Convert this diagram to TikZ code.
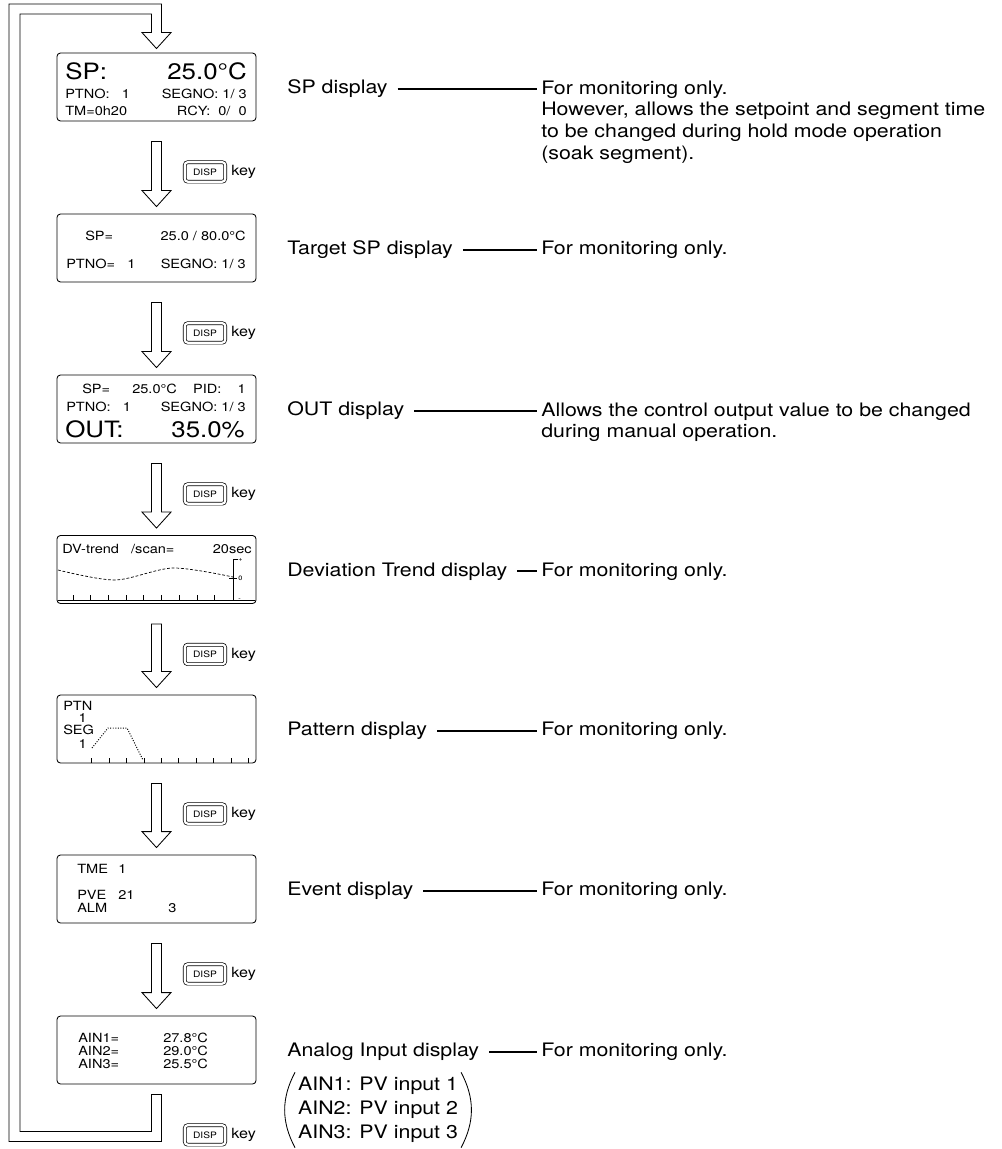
\documentclass[tikz,border=0pt]{standalone}
\usepackage{fontspec}
\setmainfont{TeX Gyre Heros}[FakeStretch=1.15]
\usetikzlibrary{positioning, calc}

\begin{document}
\begin{tikzpicture}[x=0.025cm, y=-0.025cm,
  screen/.style={draw, rounded corners=2.5pt, line width=0.6pt,
                 minimum width=4.975cm, minimum height=1.7cm},
  lcd/.style={font=\fontsize{9}{9}\selectfont, inner sep=0pt},
  lcdbig/.style={font=\fontsize{16}{16}\selectfont, inner sep=0pt},
  lcdtiny/.style={font=\fontsize{4.5}{5}\selectfont, inner sep=0pt},
  hollow/.style={draw, fill=white, line width=0.6pt},
  keycap/.style={draw, double, double distance=1.6pt, line width=0.5pt,
                 rounded corners=2pt, minimum width=28.7pt, minimum height=13.8pt,
                 inner sep=0pt, font=\fontsize{6.3}{7}\selectfont},
  keytxt/.style={font=\fontsize{10}{11}\selectfont, inner sep=0pt},
  lbl/.style={font=\fontsize{13.2}{15.5}\selectfont, inner sep=0pt, anchor=base west},
  desc/.style={lbl, align=left},
  link/.style={line width=1.3pt, shorten <=7pt, shorten >=3pt},
  paren/.style={line width=0.6pt},
  trend/.style={line width=0.5pt, dash pattern=on 2pt off 1.3pt},
  ptnline/.style={line width=0.7pt, dash pattern=on 0.7pt off 1.1pt}
]
  \useasboundingbox (0,0) rectangle (1001,1149);

  % screens
  \node[screen] (s1) at (156.5,87) {};
  \node[screen] (s2) at (156.5,248) {};
  \node[screen] (s3) at (156.5,409) {};
  \node[screen] (s4) at (156.5,569.5) {};
  \node[screen] (s5) at (156.5,729) {};
  \node[screen] (s6) at (156.5,889) {};
  \node[screen] (s7) at (156.5,1050) {};

  % SP display
  \node[lcdbig, anchor=base west] at (65,80) {SP:};
  \node[lcdbig, anchor=base east] at (247,80) {25.0°C};
  \node[lcd, anchor=base west] at (65,99) {PTNO:~~~1};
  \node[lcd, anchor=base east] at (247,99) {SEGNO:~1/~3};
  \node[lcd, anchor=base west] at (65,116) {TM=0h20};
  \node[lcd, anchor=base east] at (247,116) {RCY:~~0/~~0};

  % target SP display
  \node[lcd, anchor=base west] at (85,240) {SP=};
  \node[lcd, anchor=base east] at (246,240) {25.0 / 80.0°C};
  \node[lcd, anchor=base west] at (66,268) {PTNO=~~~1};
  \node[lcd, anchor=base east] at (246,268) {SEGNO:~1/~3};

  % OUT display
  \node[lcd, anchor=base west] at (82,393) {SP=};
  \node[lcd, anchor=base west] at (132,393) {25.0°C};
  \node[lcd, anchor=base east] at (246,393) {PID:~~~~1};
  \node[lcd, anchor=base west] at (66,411) {PTNO:~~~1};
  \node[lcd, anchor=base east] at (246,411) {SEGNO:~1/~3};
  \node[lcdbig, anchor=base west] at (65,437) {OUT:};
  \node[lcdbig, anchor=base east] at (245,437) {35.0\%};

  % deviation trend
  \node[lcd, anchor=base west] at (62,553) {DV-trend~~~/scan=};
  \node[lcd, anchor=base east] at (252,553) {20sec};
  \draw[trend] plot[smooth] coordinates {(58,570) (115,580) (173,568) (233,577)};
  \draw[line width=0.5pt] (58,600) -- (255,600);
  \foreach \i in {0,...,8} \draw[line width=0.5pt] ({73+17.7*\i},600) -- ++(0,-5);
  \draw[line width=0.5pt] (238,559) -- (233,559) -- (233,600);
  \draw[line width=0.5pt] (229,578) -- ++(8,0);
  \node[lcdtiny, anchor=west] at (238,560) {+};
  \node[lcdtiny, anchor=west] at (238,578) {0};
  \node[lcdtiny, anchor=west] at (238,600) {-};

  % pattern
  \node[lcd, anchor=base west] at (63,710) {PTN};
  \node[lcd, anchor=base east] at (87,722) {1};
  \node[lcd, anchor=base west] at (63,734) {SEG};
  \node[lcd, anchor=base east] at (87,748) {1};
  \draw[ptnline] (92,748) -- (108,728) -- (127,728) -- (143,760);
  \foreach \i in {0,...,9} \draw[line width=0.5pt] ({91.7+17.4*\i},763) -- ++(0,-5);

  % event
  \node[lcd, anchor=base west] at (77,873) {TME};
  \node[lcd, anchor=base west] at (118,873) {1};
  \node[lcd, anchor=base west] at (77,899) {PVE};
  \node[lcd, anchor=base west] at (118,899) {21};
  \node[lcd, anchor=base west] at (77,912) {ALM};
  \node[lcd, anchor=base west] at (168,912) {3};

  % analog input
  \node[lcd, anchor=base west] at (78,1042) {AIN1=};
  \node[lcd, anchor=base west] at (163,1042) {27.8°C};
  \node[lcd, anchor=base west] at (78,1055) {AIN2=};
  \node[lcd, anchor=base west] at (163,1055) {29.0°C};
  \node[lcd, anchor=base west] at (78,1068) {AIN3=};
  \node[lcd, anchor=base west] at (163,1068) {25.5°C};

  % hollow arrows and DISP keys
  \foreach \sa/\sb in {s1/s2, s2/s3, s3/s4, s4/s5, s5/s6, s6/s7}
    \draw[hollow] ($(\sa.south)+(-5,20)$) -- ($(\sb.north)+(-5,-23)$) -- ++(-9.5,0)
      -- ($(\sb.north)+(0,-7)$) -- ++(14.5,-16) -- ++(-9.5,0) -- ($(\sa.south)+(5,20)$) -- cycle;
  \draw[hollow] ($(s7.south)+(-5,10)$) -- ++(10,0) -- ++(0,47) -| (9,4)
    -| ($(s1.north)+(5,-20)$) -- ++(9.5,0) -- ($(s1.north)+(0,-4)$) -- ++(-14.5,-16)
    -- ++(9.5,0) |- (20,14) |- ($(s7.south)+(-5,47)$) -- cycle;
  \foreach \s/\n in {s1/1, s2/2, s3/3, s4/4, s5/5, s6/6, s7/7} {
    \node[keycap] (k\n) at ($(\s.south)+(48.5,50.5)$) {DISP};
    \node[keytxt, right=4pt of k\n] (kt\n) {key};
  }

  % labels and descriptions
  \node[lbl] (l1) at (287,93.5) {SP display};
  \node[desc, anchor=north west] (d1) at (541,80.3) {For monitoring only.\\However, allows the setpoint and segment time\\to be changed during hold mode operation\\(soak segment).};
  \node[lbl] (l2) at (287,254.5) {Target SP display};
  \node[desc] (d2) at (541,254.5) {For monitoring only.};
  \node[lbl] (l3) at (287,415.5) {OUT display};
  \node[desc, anchor=north west] (d3) at (541,402.3) {Allows the control output value to be changed\\during manual operation.};
  \node[lbl] (l4) at (287,576) {Deviation Trend display};
  \node[desc] (d4) at (541,576) {For monitoring only.};
  \node[lbl] (l5) at (287,735.5) {Pattern display};
  \node[desc] (d5) at (541,735.5) {For monitoring only.};
  \node[lbl] (l6) at (287,895.5) {Event display};
  \node[desc] (d6) at (541,895.5) {For monitoring only.};
  \node[lbl] (l7) at (287,1056.5) {Analog Input display};
  \node[desc] (d7) at (541,1056.5) {For monitoring only.};
  \node[lbl, anchor=west, inner xsep=2pt, inner ysep=1pt] (ain) at (295,1110)
    {\renewcommand\arraystretch{1.1}\begin{tabular}{@{}l@{}}AIN1: PV input 1\\AIN2: PV input 2\\AIN3: PV input 3\end{tabular}};
  \draw[paren] (ain.north west) to[bend right=28] (ain.south west);
  \draw[paren] (ain.north east) to[bend left=28] (ain.south east);

  \foreach \n in {1,...,7} \draw[link] (l\n.east) -- (l\n.east -| d\n.west);
\end{tikzpicture}
\end{document}
